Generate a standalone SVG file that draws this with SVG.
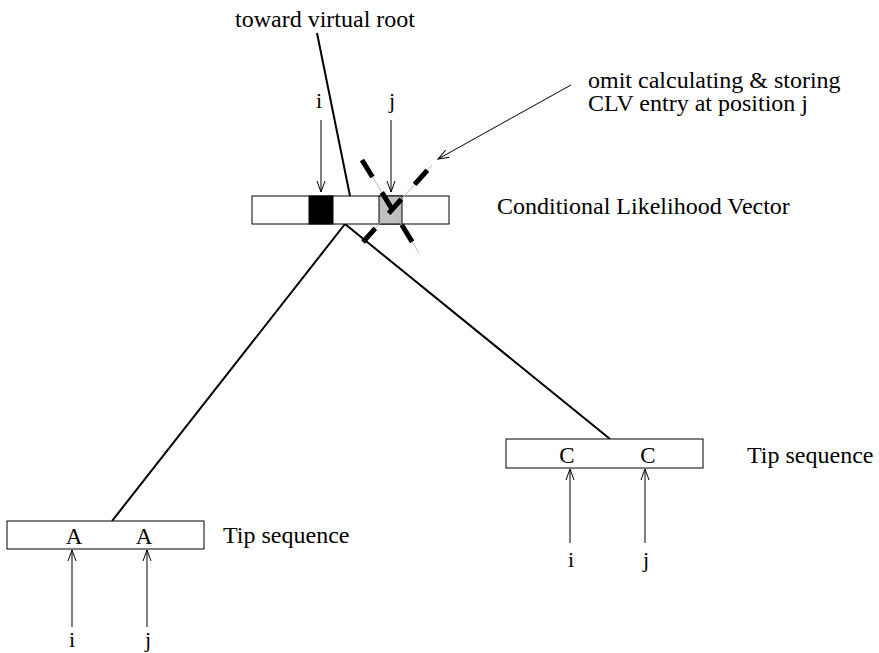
<svg xmlns="http://www.w3.org/2000/svg" width="879" height="653" viewBox="0 0 879 653">
<defs>
<marker id="open" markerWidth="12" markerHeight="10" refX="11" refY="5" orient="auto" markerUnits="userSpaceOnUse">
<path d="M0,1 L11,5 L0,9" fill="none" stroke="#000" stroke-width="1"/>
</marker>
</defs>
<style>
text{font-family:"Liberation Serif","Times New Roman",serif;fill:#000}
.lbl{font-size:24px}
.idx{font-size:22px;text-anchor:middle}
.ch{font-size:23px;text-anchor:middle}
.box{fill:#fff;stroke:#000;stroke-width:1}
.edge{stroke:#000;stroke-width:2;fill:none}
.ptr{stroke:#000;stroke-width:1;fill:none;marker-end:url(#open)}
.thin{stroke:#bbb;stroke-width:1;fill:none}
.dash{stroke:#000;stroke-width:5;fill:none}
</style>
<rect width="879" height="653" fill="#fff"/>
<g id="connectors">
<line class="edge" x1="317" y1="33" x2="350" y2="196"/>
<line class="edge" x1="345" y1="224" x2="112" y2="521"/>
<line class="edge" x1="345" y1="224" x2="610" y2="439"/>
</g>
<g id="root-label">
<text class="lbl" x="235" y="27">toward virtual root</text>
</g>
<g id="clv">
<rect class="box" x="252" y="196" width="197" height="28"/>
<rect x="309" y="196" width="24" height="28" fill="#000" stroke="#000" stroke-width="1"/>
<rect x="379" y="196" width="23" height="28" fill="#c0c0c0" stroke="#000" stroke-width="1"/>
<text class="lbl" x="497" y="214">Conditional Likelihood Vector</text>
<text class="idx" x="319" y="108">i</text>
<text class="idx" x="392" y="108">j</text>
<line class="ptr" x1="321" y1="120" x2="321" y2="192"/>
<line class="ptr" x1="391" y1="120" x2="391" y2="192"/>
</g>
<g id="omit">
<line class="thin" x1="362" y1="160" x2="419" y2="253"/>
<line class="dash" x1="362" y1="160" x2="419" y2="253" stroke-dasharray="20,18"/>
<line class="thin" x1="432" y1="165" x2="363" y2="242"/>
<line class="dash" x1="432" y1="165" x2="363" y2="242" stroke-dasharray="19,20" stroke-dashoffset="32"/>
<line class="ptr" x1="571" y1="85" x2="438" y2="159"/>
<text class="lbl" x="588" y="88">omit calculating &amp; storing</text>
<text class="lbl" x="588" y="111">CLV entry at position j</text>
</g>
<g id="tip-left">
<rect class="box" x="7" y="521" width="197" height="28"/>
<text class="ch" x="74" y="544">A</text>
<text class="ch" x="144" y="544">A</text>
<text class="lbl" x="223" y="543">Tip sequence</text>
<line class="ptr" x1="72" y1="627" x2="72" y2="550"/>
<line class="ptr" x1="147" y1="627" x2="147" y2="550"/>
<text class="idx" x="72" y="647">i</text>
<text class="idx" x="148" y="647">j</text>
</g>
<g id="tip-right">
<rect class="box" x="506" y="439" width="197" height="29"/>
<text class="ch" x="567" y="463">C</text>
<text class="ch" x="648" y="463">C</text>
<text class="lbl" x="747" y="463">Tip sequence</text>
<line class="ptr" x1="570" y1="543" x2="570" y2="469"/>
<line class="ptr" x1="645" y1="543" x2="645" y2="469"/>
<text class="idx" x="571" y="567">i</text>
<text class="idx" x="646" y="567">j</text>
</g>
</svg>
